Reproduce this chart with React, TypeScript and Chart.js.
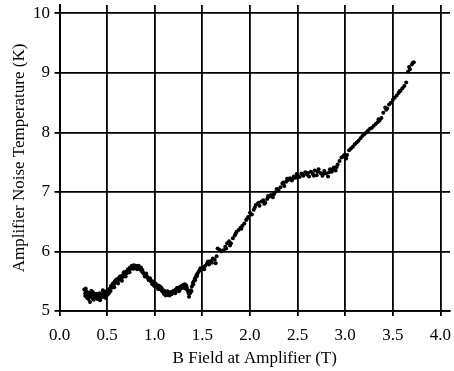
import React, { useEffect, useRef } from "react";
import { Chart, registerables } from "chart.js";

Chart.register(...registerables);

// B field at amplifier (T)
const bField: number[] = [
  0.26, 0.27, 0.27, 0.28, 0.29, 0.29, 0.30, 0.31, 0.32, 0.32, 0.33, 0.34, 0.35, 0.35, 0.36, 0.37, 0.38, 0.39, 0.40, 0.40,
  0.41, 0.42, 0.43, 0.44, 0.45, 0.45, 0.46, 0.47, 0.48, 0.49, 0.50,
  0.51, 0.52, 0.53, 0.54, 0.55, 0.56, 0.57, 0.58, 0.59, 0.60, 0.61, 0.62, 0.63, 0.64, 0.65, 0.66, 0.67, 0.68, 0.69, 0.70,
  0.71, 0.72, 0.73, 0.74, 0.75, 0.76, 0.77, 0.78, 0.79, 0.80,
  0.81, 0.82, 0.83, 0.84, 0.85, 0.86, 0.87, 0.88, 0.89, 0.90, 0.91, 0.92, 0.93, 0.94, 0.95, 0.96, 0.97, 0.98, 0.99, 1.00,
  1.01, 1.02, 1.03, 1.04, 1.05, 1.06, 1.07, 1.08, 1.09, 1.10, 1.11, 1.12, 1.13, 1.14, 1.15, 1.16, 1.17, 1.18, 1.19, 1.20,
  1.21, 1.22, 1.23, 1.24, 1.25, 1.26, 1.27, 1.28, 1.29, 1.30, 1.31, 1.32, 1.33, 1.34, 1.35, 1.36, 1.37, 1.38, 1.39, 1.40,
  1.41, 1.42, 1.43, 1.44, 1.45,
  1.47, 1.49, 1.51, 1.53, 1.55, 1.57, 1.59, 1.61, 1.63, 1.65, 1.66, 1.68, 1.70,
  1.72, 1.74, 1.76, 1.78, 1.80, 1.82, 1.84, 1.86, 1.88, 1.90, 1.92, 1.94, 1.96, 1.98, 2.00,
  2.02, 2.04, 2.06, 2.08, 2.10, 2.12, 2.14, 2.16, 2.18, 2.20, 2.22, 2.24, 2.26, 2.28, 2.30, 2.32, 2.34, 2.36, 2.38, 2.40,
  2.42, 2.44, 2.46, 2.48, 2.50,
  2.52, 2.54, 2.56, 2.58, 2.60, 2.62, 2.64, 2.66, 2.68, 2.70, 2.72, 2.74, 2.76, 2.78, 2.80, 2.82, 2.84, 2.86, 2.88, 2.90,
  2.92, 2.94,
  2.96, 2.98, 3.00, 3.02, 3.04, 3.06, 3.08, 3.10, 3.12, 3.14, 3.16, 3.18, 3.20, 3.22, 3.24, 3.26, 3.28, 3.30, 3.32, 3.34,
  3.36, 3.38, 3.40, 3.42, 3.44, 3.46, 3.48, 3.50, 3.52, 3.54, 3.56, 3.58, 3.60, 3.62, 3.64, 3.66, 3.68, 3.70, 3.72,
];

// Amplifier noise temperature (K)
const noiseTemp: number[] = [
  5.36, 5.30, 5.25, 5.33, 5.27, 5.22, 5.31, 5.26, 5.29, 5.15, 5.24, 5.28, 5.21, 5.32, 5.19, 5.26, 5.23, 5.29, 5.20, 5.27,
  5.24, 5.30, 5.22, 5.26, 5.28, 5.23, 5.31, 5.25, 5.29, 5.33, 5.27,
  5.35, 5.31, 5.38, 5.42, 5.39, 5.46, 5.44, 5.50, 5.48, 5.52, 5.49, 5.55, 5.53, 5.57, 5.55, 5.60, 5.58, 5.63, 5.61, 5.66,
  5.64, 5.70, 5.68, 5.73, 5.71, 5.76, 5.74, 5.77, 5.72, 5.76,
  5.75, 5.73, 5.76, 5.71, 5.70, 5.67, 5.69, 5.64, 5.62, 5.60, 5.63, 5.57, 5.55, 5.53, 5.55, 5.50, 5.48, 5.50, 5.46, 5.44,
  5.46, 5.42, 5.40, 5.43, 5.38, 5.36, 5.39, 5.33, 5.35, 5.31, 5.33, 5.29, 5.27, 5.31, 5.28, 5.30, 5.32, 5.29, 5.31, 5.34,
  5.32, 5.36, 5.34, 5.38, 5.35, 5.40, 5.37, 5.42, 5.39, 5.44, 5.41, 5.38, 5.43, 5.36, 5.33, 5.24, 5.30, 5.35, 5.41, 5.47,
  5.50, 5.54, 5.57, 5.61, 5.63,
  5.68, 5.70, 5.73, 5.76, 5.80, 5.78, 5.84, 5.88, 5.86, 5.92, 6.05, 6.03, 6.00,
  6.02, 6.08, 6.14, 6.17, 6.14, 6.22, 6.27, 6.33, 6.36, 6.40, 6.43, 6.47, 6.53, 6.58, 6.65,
  6.62, 6.70, 6.78, 6.80, 6.77, 6.84, 6.86, 6.82, 6.88, 6.92, 6.95, 6.91, 6.99, 7.05, 7.02, 7.08, 7.14, 7.10, 7.17, 7.20,
  7.23, 7.19, 7.26, 7.24, 7.28,
  7.25, 7.31, 7.27, 7.33, 7.29, 7.26, 7.34, 7.30, 7.36, 7.28, 7.38, 7.32, 7.27, 7.35, 7.31, 7.26, 7.38, 7.34, 7.41, 7.36,
  7.46, 7.52,
  7.58, 7.60, 7.58, 7.62, 7.70, 7.73, 7.76, 7.80, 7.83, 7.86, 7.90, 7.94, 7.97, 8.00, 8.03, 8.06, 8.08, 8.11, 8.14, 8.17,
  8.20, 8.24, 8.33, 8.42, 8.40, 8.47, 8.50, 8.55, 8.58, 8.62, 8.66, 8.70, 8.74, 8.78, 8.84, 9.02, 9.06, 9.14, 9.18,
];

// Interleaved second sweep (B field, T)
const bFieldSweep2: number[] = [
  0.275, 0.305, 0.335, 0.365, 0.395, 0.425, 0.455, 0.485,
  0.515, 0.535, 0.555, 0.575, 0.595, 0.615, 0.635, 0.655, 0.675, 0.695, 0.715, 0.735, 0.755, 0.775, 0.795,
  0.815, 0.835, 0.855, 0.875, 0.895, 0.915, 0.935, 0.955, 0.975, 0.995,
  1.015, 1.035, 1.055, 1.075, 1.095, 1.115, 1.135, 1.155, 1.175, 1.195,
  1.215, 1.235, 1.255, 1.275, 1.295, 1.315, 1.335, 1.355, 1.385, 1.405, 1.425, 1.445,
  1.46, 1.48, 1.52, 1.56, 1.60, 1.64,
  1.75, 1.79, 1.85, 1.91, 1.97, 2.05, 2.09, 2.15, 2.19, 2.25, 2.29, 2.35, 2.39, 2.45, 2.49,
  2.55, 2.61, 2.67, 2.71, 2.77, 2.83, 2.87, 2.91, 2.99, 3.01, 3.35, 3.43, 3.57, 3.67, 3.71,
];

// Interleaved second sweep (noise temperature, K)
const noiseTempSweep2: number[] = [
  5.38, 5.20, 5.34, 5.29, 5.25, 5.18, 5.35, 5.22,
  5.29, 5.33, 5.44, 5.40, 5.53, 5.46, 5.58, 5.51, 5.65, 5.58, 5.69, 5.65, 5.74, 5.71, 5.75,
  5.70, 5.72, 5.73, 5.65, 5.58, 5.59, 5.52, 5.51, 5.45, 5.42,
  5.41, 5.37, 5.41, 5.34, 5.29, 5.26, 5.33, 5.26, 5.28, 5.33,
  5.30, 5.39, 5.33, 5.40, 5.42, 5.45, 5.40, 5.30, 5.33, 5.45, 5.52, 5.59,
  5.66, 5.72, 5.70, 5.83, 5.81, 5.80,
  6.05, 6.10, 6.30, 6.38, 6.55, 6.74, 6.82, 6.80, 6.93, 6.96, 7.04, 7.16, 7.22, 7.22, 7.30,
  7.29, 7.32, 7.27, 7.34, 7.30, 7.33, 7.38, 7.42, 7.62, 7.56, 8.22, 8.38, 8.69, 9.10, 9.17,
];

const xTicks: number[] = [0, 0.5, 1.0, 1.5, 2.0, 2.5, 3.0, 3.5, 4.0];
const yTicks: number[] = [5, 6, 7, 8, 9, 10];

const xTitle = "B Field at Amplifier (T)";
const yTitle = "Amplifier Noise Temperature (K)";

export default function App() {
  const canvasRef = useRef<HTMLCanvasElement | null>(null);

  useEffect(() => {
    document.body.style.margin = "0";
    const canvas = canvasRef.current;
    if (!canvas) return;
    const font = { family: "'Liberation Serif', 'Times New Roman', serif", size: 17 };
    const points = [
      ...bField.map((b, i) => ({ x: b, y: noiseTemp[i] })),
      ...bFieldSweep2.map((b, i) => ({ x: b, y: noiseTempSweep2[i] })),
    ];
    const chart = new Chart(canvas, {
      type: "scatter",
      data: {
        datasets: [
          {
            data: points,
            backgroundColor: "#000",
            borderColor: "#000",
            borderWidth: 0,
            pointRadius: 2,
          },
        ],
      },
      options: {
        animation: false,
        responsive: false,
        maintainAspectRatio: false,
        devicePixelRatio: 1,
        layout: { padding: { top: 5, right: 3, left: 0, bottom: 0 } },
        plugins: {
          legend: { display: false },
          tooltip: { enabled: false },
        },
        scales: {
          x: {
            type: "linear",
            min: 0,
            max: 4.1,
            afterBuildTicks: (scale: any) => {
              scale.ticks = xTicks.map((v) => ({ value: v }));
            },
            afterFit: (scale: any) => {
              scale.height = 60;
              scale.paddingLeft = 0;
              scale.paddingRight = 0;
            },
            ticks: {
              color: "#000",
              font,
              padding: 9,
              callback: (v: any) => Number(v).toFixed(1),
            },
            grid: { color: "#000", lineWidth: 1.8, tickLength: 5 },
            border: { display: true, color: "#000", width: 1.8 },
            title: {
              display: true,
              text: xTitle,
              color: "#000",
              font,
              padding: { top: 0, bottom: 2 },
            },
          },
          y: {
            type: "linear",
            min: 5,
            max: 10.14,
            afterBuildTicks: (scale: any) => {
              scale.ticks = yTicks.map((v) => ({ value: v }));
            },
            afterFit: (scale: any) => {
              scale.width = 59.5;
              scale.paddingTop = 0;
              scale.paddingBottom = 0;
            },
            ticks: {
              color: "#000",
              font,
              padding: 4.5,
              callback: (v: any) => String(v),
            },
            grid: { color: "#000", lineWidth: 1.8, tickLength: 5 },
            border: { display: true, color: "#000", width: 1.8 },
            title: {
              display: true,
              text: yTitle,
              color: "#000",
              font,
              padding: { top: 9, bottom: 0 },
            },
          },
        },
      },
    });
    return () => chart.destroy();
  }, []);

  return (
    <div style={{ width: 454, height: 371 }}>
      <canvas ref={canvasRef} width={454} height={371} style={{ display: "block" }} />
    </div>
  );
}
